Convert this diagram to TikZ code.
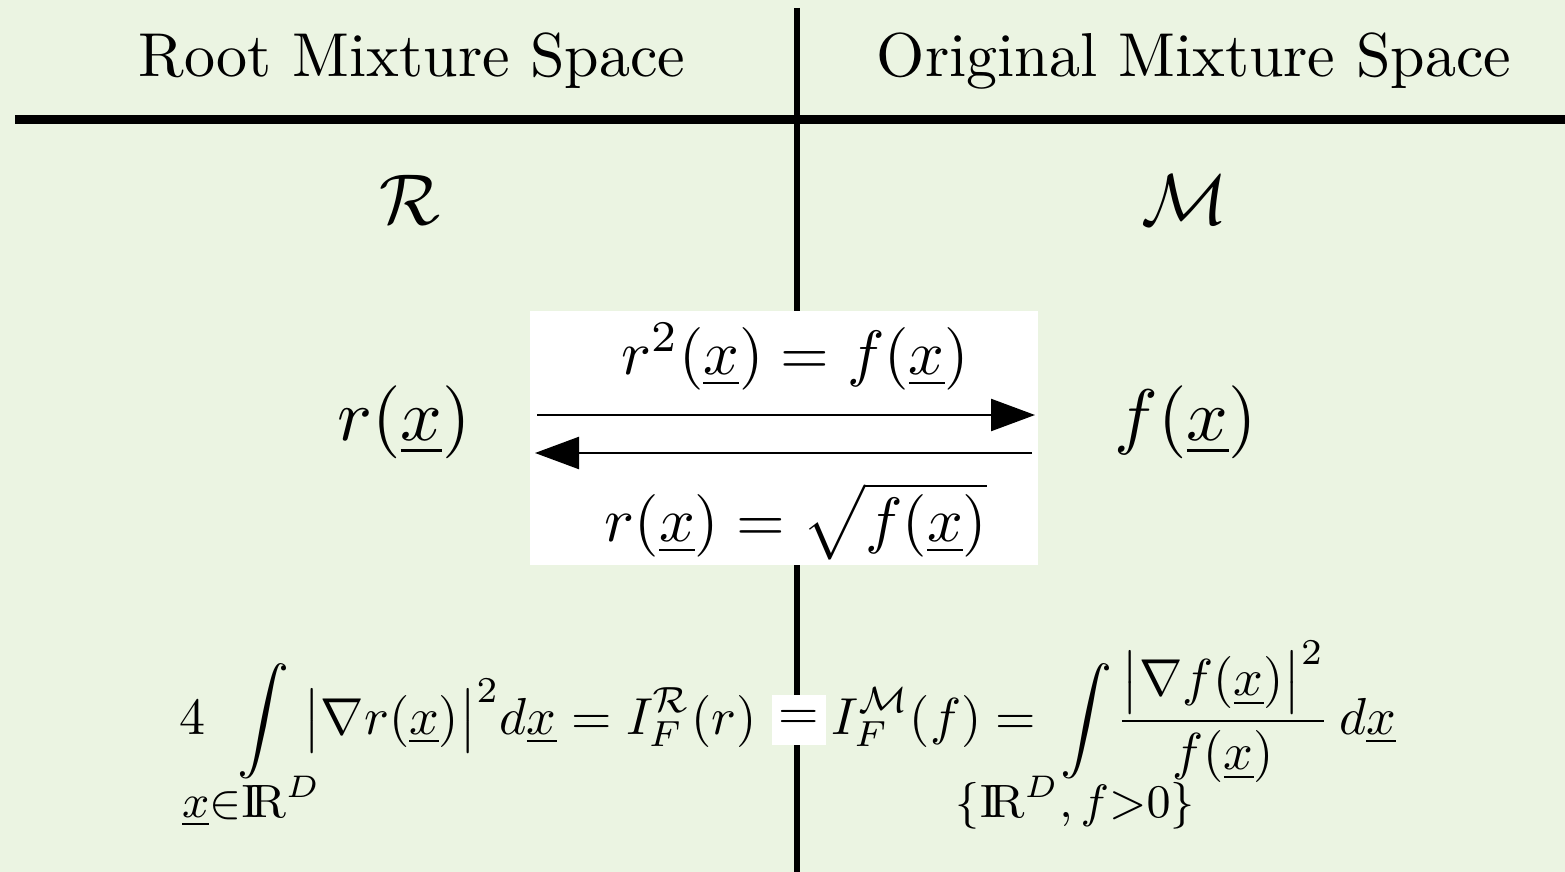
\documentclass[tikz,border=0pt]{standalone}
\usepackage{amsmath}
\usepackage{graphicx}
\usetikzlibrary{arrows.meta}
\definecolor{bgcol}{RGB}{235,244,226}
\newcommand{\ux}{\underline{x}}
\newcommand{\IRR}{\mathrm{I\!R}}
\newcommand{\zsub}[1]{\hbox to 0pt{\hss\lower1.4pt\hbox{\smash{\fontsize{8.7}{10}\selectfont$#1$}}\hss}}
\tikzset{
  lbl/.style={inner sep=0pt, anchor=base},
  conv/.style={line width=1.2pt, -{Triangle[length=22pt,width=16pt]}},
  rule/.style={line width=#1, black},
}
\begin{document}
\begin{tikzpicture}[x=0.5pt,y=-0.5pt]
\fill[bgcol] (0,0) rectangle (1565,872);
\useasboundingbox (0,0) rectangle (1565,872);
% rules
\coordinate (vtop) at (797,8);
\coordinate (vbot) at (797,872);
\coordinate (hl) at (15,119.5);
\coordinate (hr) at (1565,119.5);
\draw[rule=3pt] (vtop) -- (vbot);
\draw[rule=4.5pt] (hl) -- (hr);
% headers
\node[lbl] (hR) at (412,77) {\scalebox{3.1}{Root Mixture Space}};
\node[lbl] (hM) at (1194,77) {\scalebox{3.1}{Original Mixture Space}};
% spaces
\node[lbl] (sR) at (410,225) {\scalebox{3.6}{$\mathcal{R}$}};
\node[lbl] (sM) at (1185,225) {\scalebox{3.6}{$\mathcal{M}$}};
% functions
\node[lbl] (rx) at (404,440) {\scalebox{3.65}{$r(\ux)$}};
\node[lbl] (fx) at (1186,440) {\scalebox{3.65}{$f(\ux)$}};
% white box
\node[fill=white, inner sep=0pt, minimum width=254pt, minimum height=127pt] (box) at (784,438) {};
\node[lbl] (top) at (795,374) {\scalebox{3.13}{$r^2(\ux) = f(\ux)$}};
\node[lbl] (bot) at (796,541) {\scalebox{3.13}{$r(\ux) = \sqrt{f(\ux)}$}};
\coordinate (a1s) at (537,415);
\coordinate (a1e) at (1035,415);
\coordinate (a2s) at (1032,453);
\coordinate (a2e) at (535,453);
\draw[conv] (a1s) -- (a1e);
\draw[conv] (a2s) -- (a2e);
% bottom equation
\node[lbl, anchor=base east] (eqL) at (757,734)
  {\scalebox{2.6}{$\displaystyle 4\mkern8mu\int\limits_{\zsub{\ux{\in}\IRR^D}}\mkern2mu\big|\nabla r(\ux)\big|^2 d\ux = I_F^{\mathcal{R}}(r)$}};
\node[fill=white, inner sep=0pt, minimum width=27pt, minimum height=25pt] (eqM) at (799,720) {\scalebox{2.6}{$=$}};
\node[lbl, anchor=base west] (eqR) at (831,734)
  {\scalebox{2.6}{$\displaystyle I_F^{\mathcal{M}}(f) = \mkern3.5mu\int\limits_{\zsub{\{\IRR^D, f{>}0\}}}\mkern-2mu\frac{\big|\nabla f(\ux)\big|^2}{f(\ux)}\,d\ux$}};
\end{tikzpicture}
\end{document}
